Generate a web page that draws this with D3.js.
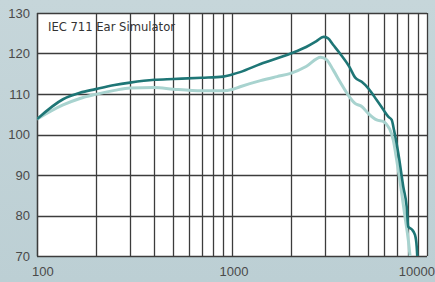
<!DOCTYPE html>
<html><head><meta charset="utf-8">
<script src="https://cdn.jsdelivr.net/npm/d3@7"></script>
<style>html,body{margin:0;padding:0;background:#c0d2d7;}svg{display:block;}</style>
</head><body>
<script>
const title = "IEC 711 Ear Simulator";
const xTickValues = [100, 1000, 10000];
const xTickLabels = ["100", "1000", "10000"];
const yTickValues = [70, 80, 90, 100, 110, 120, 130];
const darkFreq = [100,136,166,200,250,300,400,500,700,900,1000,1100,1400,2000,2400,2700,2950,3100,3307,3580,4000,4273,4626,5000,5521,6000,6331,6592,6773,7126,7558,7867,8017,8345,8679,8854,8915,9000];
const darkDb =   [103.8,108.7,110.3,111.2,112.2,112.8,113.5,113.7,114.0,114.3,114.8,115.4,117.4,120.0,121.6,123.0,124.1,123.8,122.1,120.0,116.7,114.1,113.0,111.4,108.5,106.0,104.4,103.6,101.1,95.4,87.1,82.2,77.2,76.6,75.2,72.3,70.0,68.0];
const lightFreq = [100,136,166,200,250,300,400,500,700,900,1000,1100,1400,1700,2000,2400,2850,3050,3307,3580,4000,4273,4626,5000,5521,6000,6331,6430,6717,6991,7419,7712,8017,8188,8300];
const lightDb =   [103.8,107.3,108.9,109.9,110.9,111.5,111.6,111.2,110.8,110.8,111.1,111.8,113.3,114.3,115.1,116.8,119.1,118.5,115.9,113.0,109.3,107.7,106.9,105.2,103.6,103.2,101.9,101.4,98.6,93.7,85.5,79.7,74.0,70.0,68.0];

const W = 435, H = 282;
const m = {left:37, top:13, right:427, bottom:256};
const svg = d3.select("body").append("svg").attr("width", W).attr("height", H);

const defs = svg.append("defs");
const g1 = defs.append("linearGradient").attr("id","bg").attr("x1",0).attr("y1",0).attr("x2",0).attr("y2",1);
g1.append("stop").attr("offset","0%").attr("stop-color","#c6d6da");
g1.append("stop").attr("offset","100%").attr("stop-color","#bccfd4");
defs.append("clipPath").attr("id","clip").append("rect")
  .attr("x", m.left).attr("y", m.top).attr("width", m.right-m.left).attr("height", m.bottom-m.top);

svg.append("rect").attr("width", W).attr("height", H).attr("fill", "url(#bg)");

const x = d3.scaleLog().domain([100, 10000]).range([m.left, m.right]);
const y = d3.scaleLinear().domain([70, 130]).range([m.bottom, m.top]);

svg.append("rect").attr("x", m.left).attr("y", m.top)
  .attr("width", m.right-m.left).attr("height", m.bottom-m.top).attr("fill", "#fff");

// grid
const xGridVals = x.ticks(20);
svg.append("g").selectAll("line").data(xGridVals).join("line")
  .attr("x1", d => Math.round(x(d))+0.5).attr("x2", d => Math.round(x(d))+0.5)
  .attr("y1", m.top).attr("y2", m.bottom)
  .attr("stroke", "#3c3c3c").attr("stroke-width", 1.3);
svg.append("g").selectAll("line").data(yTickValues).join("line")
  .attr("x1", m.left).attr("x2", m.right)
  .attr("y1", d => Math.round(y(d))+0.5).attr("y2", d => Math.round(y(d))+0.5)
  .attr("stroke", "#3c3c3c").attr("stroke-width", 1.3);
svg.append("line").attr("x1", m.left+0.5).attr("x2", m.left+0.5).attr("y1", m.top).attr("y2", m.bottom+0.5)
  .attr("stroke", "#3c3c3c").attr("stroke-width", 1.3);

// y labels
const yAxis = d3.axisLeft(y).tickValues(yTickValues).tickSize(0).tickPadding(7);
const ya = svg.append("g").attr("transform", `translate(${m.left},0)`).call(yAxis);
ya.select(".domain").remove();
ya.selectAll("text").attr("font-family", "Liberation Sans, Arial, sans-serif").attr("font-size", 13).attr("fill", "#4a4a4a");

// x labels
svg.append("g").selectAll("text").data(xTickValues).join("text")
  .attr("x", (d,i) => i===0 ? x(d)-5 : i===xTickValues.length-1 ? x(d)+8 : x(d)+2)
  .attr("y", 276)
  .attr("text-anchor", (d,i) => i===0 ? "start" : i===xTickValues.length-1 ? "end" : "middle")
  .attr("font-family", "Liberation Sans, Arial, sans-serif").attr("font-size", 13).attr("fill", "#4a4a4a")
  .text((d,i) => xTickLabels[i]);

// title
svg.append("text").attr("x", 48).attr("y", 31)
  .attr("font-family", "DejaVu Sans Condensed, Liberation Sans, sans-serif").attr("font-size", 12).attr("fill", "#333")
  .attr("textLength", 127).attr("lengthAdjust", "spacingAndGlyphs")
  .text(title);

const line = d3.line().x(d => x(d[0])).y(d => y(d[1])).curve(d3.curveMonotoneX);
const lg = svg.append("g").attr("clip-path", "url(#clip)");
lg.append("path").datum(lightFreq.map((f,i)=>[f, lightDb[i]])).attr("d", line)
  .attr("fill", "none").attr("stroke", "#a8d3cf").attr("stroke-width", 3).attr("stroke-linejoin","round");
lg.append("path").datum(darkFreq.map((f,i)=>[f, darkDb[i]])).attr("d", line)
  .attr("fill", "none").attr("stroke", "#1e7676").attr("stroke-width", 2.6).attr("stroke-linejoin","round");
</script>
</body></html>
